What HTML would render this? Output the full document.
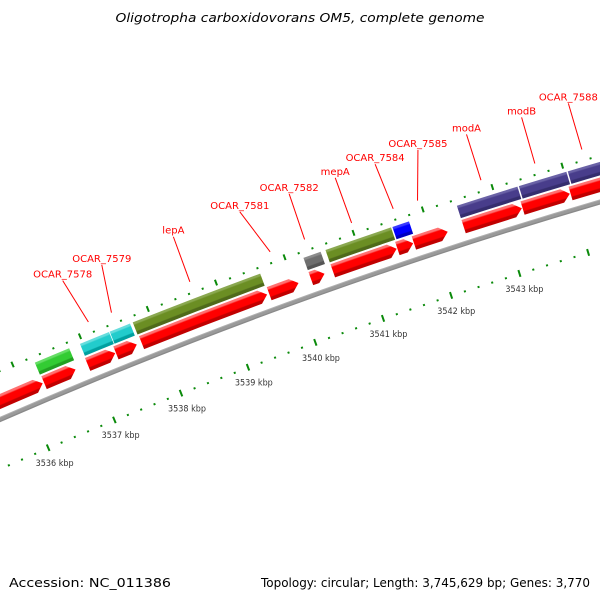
<!DOCTYPE html>
<html><head><meta charset="utf-8"><style>
html,body{margin:0;padding:0;background:#fff;}
svg{display:block;font-family:"DejaVu Sans","Liberation Sans",sans-serif;}
</style></head><body>
<svg id="chart" width="600" height="600" viewBox="0 0 600 600" xmlns="http://www.w3.org/2000/svg">
<defs id="defs"></defs>
<rect width="600" height="600" fill="#fff"/>
<text x="300" y="22" text-anchor="middle" font-size="12" font-style="italic" fill="#000" textLength="369" lengthAdjust="spacingAndGlyphs">Oligotropha carboxidovorans OM5, complete genome</text>
<g id="plot"></g>
<text x="9" y="587" font-size="12.5" fill="#000" textLength="162" lengthAdjust="spacingAndGlyphs">Accession: NC_011386</text>
<text x="590" y="587" text-anchor="end" font-size="12.5" fill="#000" textLength="329" lengthAdjust="spacingAndGlyphs">Topology: circular; Length: 3,745,629 bp; Genes: 3,770</text>
</svg>
<script>
// ---- data (kbp) ----
var featStarts = [3536.29, 3536.96, 3537.40, 3537.74, 3540.24, 3540.56, 3541.53, 3542.46, 3543.35, 3544.05];
var featEnds   = [3536.80, 3537.39, 3537.70, 3539.61, 3540.49, 3541.51, 3541.77, 3543.33, 3544.03, 3545.10];
var featColors = ["green", "cyan", "cyan", "olive", "gray", "olive", "blue", "purple", "purple", "purple"];
var cdsStarts = [3534.0, 3536.30, 3536.95, 3537.37, 3537.75, 3539.63, 3540.24, 3540.56, 3541.50, 3541.74, 3542.46, 3543.31, 3544.00];
var cdsEnds   = [3536.28, 3536.77, 3537.36, 3537.68, 3539.60, 3540.06, 3540.44, 3541.49, 3541.73, 3542.23, 3543.30, 3543.99, 3545.10];
var labelNames = ["OCAR_7578","OCAR_7579","lepA","OCAR_7581","OCAR_7582","mepA","OCAR_7584","OCAR_7585","modA","modB","OCAR_7588"];
var labelAnchors = [3537.18, 3537.52, 3538.67, 3539.84, 3540.34, 3541.02, 3541.62, 3541.97, 3542.88, 3543.65, 3544.32];
var labelTargets = [3537.07, 3537.64, 3538.68, 3539.64, 3540.35, 3541.01, 3541.58, 3542.19, 3542.88, 3543.66, 3544.32];
var tickLabels = [3536, 3537, 3538, 3539, 3540, 3541, 3542, 3543];

// ---- geometry ----
var CX = 2020, CY = 5055, REF = 3536, A0 = -113.17, DEG_PER_KBP = 0.821;
function ang(k){ return (A0 + DEG_PER_KBP*(k-REF))*Math.PI/180; }
function P(k, r){ var a = ang(k); return [CX + r*Math.cos(a), CY + r*Math.sin(a)]; }
function f(p){ return p[0].toFixed(2)+","+p[1].toFixed(2); }
function sector(a, b, r1, r2){
  var p1=P(a,r2), p2=P(b,r2), p3=P(b,r1), p4=P(a,r1);
  return "M"+f(p1)+" A"+r2+","+r2+" 0 0 1 "+f(p2)+" L"+f(p3)+" A"+r1+","+r1+" 0 0 0 "+f(p4)+"Z";
}
function arrow(a, b, r1, r2){
  var head = 8/(r2*Math.PI/180*DEG_PER_KBP);
  var bh = Math.max(a, b-head), rm=(r1+r2)/2;
  var p1=P(a,r2), p2=P(bh,r2), tip=P(b,rm), p3=P(bh,r1), p4=P(a,r1);
  return "M"+f(p1)+" A"+r2+","+r2+" 0 0 1 "+f(p2)+" L"+f(tip)+" L"+f(p3)+" A"+r1+","+r1+" 0 0 0 "+f(p4)+"Z";
}
var NS="http://www.w3.org/2000/svg";
var defs=document.getElementById("defs"), plot=document.getElementById("plot");
var GR=5200;
function grad(id, r1, r2, dark, main, light){
  var g=document.createElementNS(NS,"radialGradient");
  g.setAttribute("id",id); g.setAttribute("gradientUnits","userSpaceOnUse");
  g.setAttribute("cx",CX); g.setAttribute("cy",CY); g.setAttribute("r",GR);
  g.setAttribute("fx",CX); g.setAttribute("fy",CY);
  var t=r2-r1;
  var stops=[[r1,dark],[r1+t*0.22,dark],[r1+t*0.3,main],[r1+t*0.75,main],[r1+t*0.85,light],[r2,light]];
  stops.forEach(function(s){
    var st=document.createElementNS(NS,"stop");
    st.setAttribute("offset",(s[0]/GR).toFixed(6)); st.setAttribute("stop-color",s[1]);
    g.appendChild(st);
  });
  defs.appendChild(g);
}
var FR1=5082, FR2=5095, RR1=5066, RR2=5080;
var palette={green:["#22a022","#33cc33","#66dd66"],cyan:["#00a0a0","#22cccc","#66dddd"],olive:["#4f6a1a","#6b8e23","#8aa850"],gray:["#555","#6e6e6e","#8c8c8c"],blue:["#0000c0","#0000ff","#3a3aff"],purple:["#352d6e","#483d8b","#6a62a6"]};
Object.keys(palette).forEach(function(c){ grad("g-"+c,FR1,FR2,palette[c][0],palette[c][1],palette[c][2]); });
grad("g-red",RR1,RR2,"#c00000","#ff0000","#ff7070");
grad("g-back",5054,5059,"#8a8a8a","#9a9a9a","#b0b0b0");

function add(tag, attrs, parent){
  var e=document.createElementNS(NS,tag);
  for(var k in attrs) e.setAttribute(k,attrs[k]);
  (parent||plot).appendChild(e); return e;
}
var KMIN=3534.4, KMAX=3545.6;
var bb=add("path",{d:sector(KMIN,KMAX,5054,5059),fill:"url(#g-back)"});



var ticks=add("g",{});


for(var i=Math.round(KMIN*5); i<=Math.round(KMAX*5); i++){
  var k=i/5, major=(i%5===0);
  var a=P(k, major?5099:5100), b=P(k, major?5105:5102);
  var t1=add("line",{x1:a[0],y1:a[1],x2:b[0],y2:b[1],stroke:"#0a8a0a","stroke-width":2},ticks);
  
  
  var c=P(k, major?5008:5010), d=P(k, major?5015:5012);
  var t2=add("line",{x1:c[0],y1:c[1],x2:d[0],y2:d[1],stroke:"#0a8a0a","stroke-width":2},ticks);
  
  
}
tickLabels.forEach(function(k){
  var p=P(k,4995);
  var t=add("text",{x:p[0],y:p[1]+3,"text-anchor":"middle","font-size":"8.5",fill:"#333",textLength:"38",lengthAdjust:"spacingAndGlyphs"},ticks);
  t.textContent=k+" kbp";
  
  
});

cdsStarts.forEach(function(s,i){
  var e=add("path",{d:arrow(s,cdsEnds[i],RR1,RR2),fill:"url(#g-red)"});
  
  
});
featStarts.forEach(function(s,i){
  var e=add("path",{d:sector(s,featEnds[i],FR1,FR2),fill:"url(#g-"+featColors[i]+")"});
  
  
});
var LIN=5112, LOUT=5160;
labelNames.forEach(function(n,i){
  var a=P(labelAnchors[i],LIN), b=P(labelTargets[i],LOUT);
  var l=add("line",{x1:a[0],y1:a[1],x2:b[0],y2:b[1],stroke:"#ff0000","stroke-width":1});
  
  
  var t=add("text",{x:b[0],y:b[1]-3,"text-anchor":"middle","font-size":"10",fill:"#ff0000"});
  t.textContent=n;
  
  
});
</script>
</body></html>
